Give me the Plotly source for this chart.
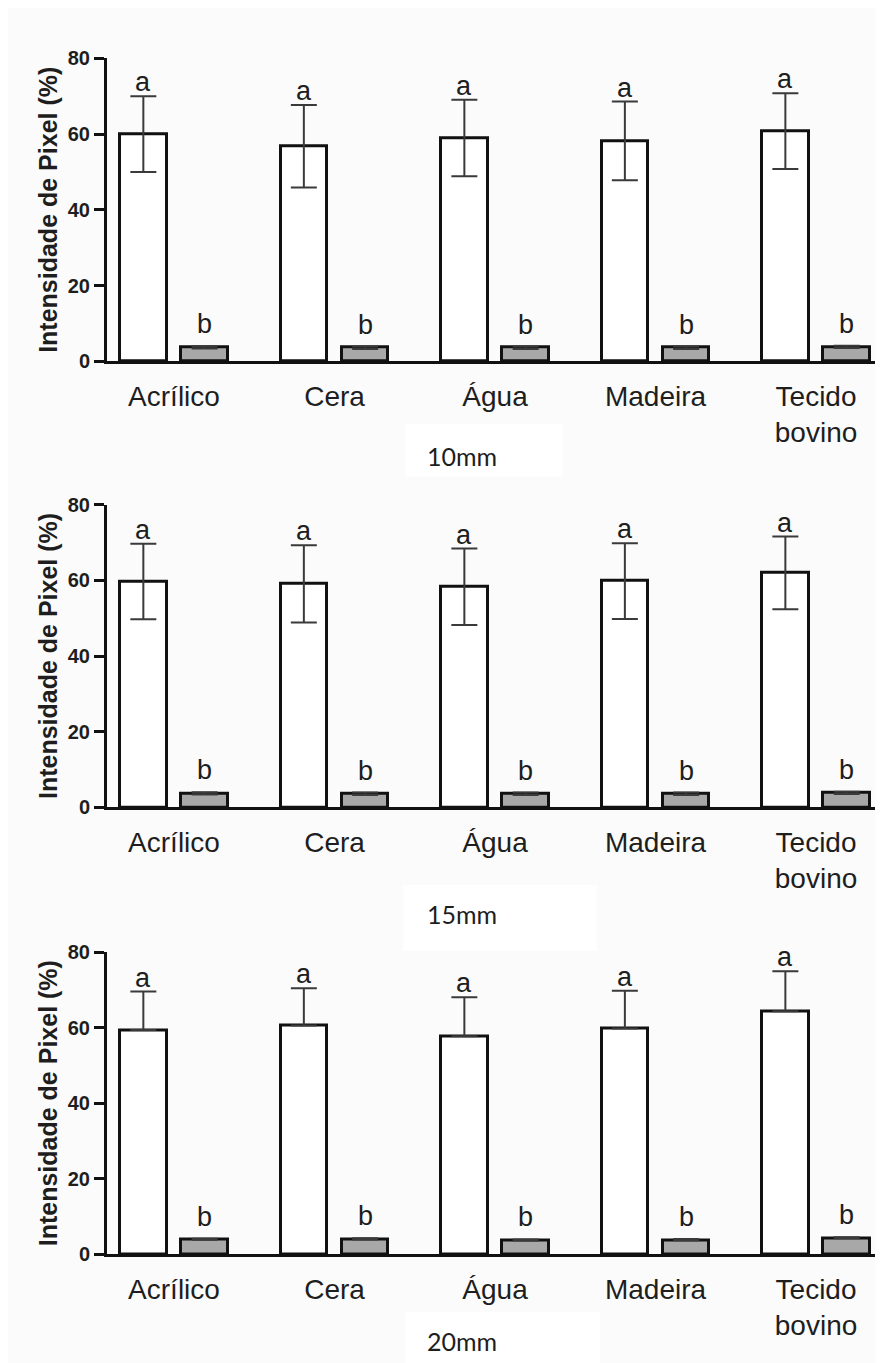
import plotly.graph_objects as go

categories = ["Acrílico", "Cera", "Água", "Madeira", "Tecido<br>bovino"]
panel_labels = ["10mm", "15mm", "20mm"]

white_10 = [60.0, 56.8, 59.0, 58.2, 60.8]
white_err_10 = [10.0, 10.9, 10.1, 10.4, 10.0]
gray_10 = [3.7, 3.6, 3.6, 3.6, 3.8]
gray_err_10 = [0.3, 0.3, 0.3, 0.3, 0.3]

white_15 = [59.7, 59.1, 58.3, 59.8, 62.0]
white_err_15 = [10.0, 10.2, 10.1, 10.0, 9.6]
gray_15 = [3.7, 3.6, 3.6, 3.6, 3.8]
gray_err_15 = [0.3, 0.3, 0.3, 0.3, 0.3]

white_20 = [59.4, 60.6, 57.8, 59.8, 64.4]
white_err_20 = [10.2, 9.9, 10.3, 10.0, 10.6]
gray_20 = [3.8, 3.9, 3.6, 3.7, 4.2]
gray_err_20 = [0.3, 0.3, 0.3, 0.3, 0.3]

letters_white = ["a", "a", "a", "a", "a"]
letters_gray = ["b", "b", "b", "b", "b"]

panels = [
    (white_10, white_err_10, gray_10, gray_err_10, True),
    (white_15, white_err_15, gray_15, gray_err_15, True),
    (white_20, white_err_20, gray_20, gray_err_20, False),
]

W, H = 883, 1363
OFS = 8  # page body margin compensation
# screen pixel positions (y of 80, y of 0) for each panel
panel_px = [(48, 356), (501.7, 809.3), (956.7, 1263.4)]
caption_px = [(462, 452), (462, 918), (462, 1352)]
caption_box = [(405, 420, 563, 473), (403, 888, 597, 955), (405, 1322, 600, 1375)]
x_left_px, x_right_px = 107, 882
xrange_ = [-0.4174, 4.411]

BW = 0.29
OFF_W = -0.336
OFF_G = 0.046
CW = OFF_W + BW / 2
CG = OFF_G + BW / 2


def fx(px):
    return (px - OFS) / W


def fy(py):
    return 1 - (py - OFS) / H


fig = go.Figure()
font_fam = "Liberation Sans, Arial, sans-serif"
annotations = []
shapes = []

for k, (wv, we, gv, ge, sym) in enumerate(panels):
    xa = "x" if k == 0 else f"x{k+1}"
    ya = "y" if k == 0 else f"y{k+1}"
    err_w = dict(type="data", array=we, visible=True, color="#3a3a3a",
                 thickness=2, width=13)
    if not sym:
        err_w["symmetric"] = False
        err_w["arrayminus"] = [0] * len(we)
    fig.add_trace(go.Bar(
        x=categories, y=wv, xaxis=xa, yaxis=ya, width=BW, offset=OFF_W,
        marker=dict(color="white", line=dict(color="#111111", width=3)),
        error_y=err_w, showlegend=False))
    err_g = dict(type="data", array=ge, visible=True, color="#3a3a3a",
                 thickness=2, width=13)
    if not sym:
        err_g["symmetric"] = False
        err_g["arrayminus"] = [0] * len(ge)
    fig.add_trace(go.Bar(
        x=categories, y=gv, xaxis=xa, yaxis=ya, width=BW, offset=OFF_G,
        marker=dict(color="#a8a8a8", line=dict(color="#111111", width=3)),
        error_y=err_g, showlegend=False))

    top, bot = panel_px[k]
    dom_y = [fy(bot), fy(top)]
    dom_x = [fx(x_left_px), fx(x_right_px)]
    fig.update_layout(**{
        ("xaxis" if k == 0 else f"xaxis{k+1}"): dict(
            domain=dom_x, range=xrange_, anchor=ya, showline=True,
            linecolor="#111111", linewidth=3, ticks="", showgrid=False,
            zeroline=False, tickfont=dict(family=font_fam, size=28, color="#1e1e1e"),
            ticklabelstandoff=8),
        ("yaxis" if k == 0 else f"yaxis{k+1}"): dict(
            domain=dom_y, range=[0, 80], anchor=xa, showline=True,
            linecolor="#111111", linewidth=3, ticks="outside", ticklen=10,
            tickwidth=3, tickcolor="#111111", tickvals=[0, 20, 40, 60, 80],
            showgrid=False, zeroline=False,
            tickfont=dict(family=font_fam, size=20, color="#1e1e1e", weight="bold")),
    })
    for i in range(len(categories)):
        annotations.append(dict(
            x=i + CW, y=wv[i] + we[i], xref=xa, yref=ya, text=letters_white[i],
            showarrow=False, yanchor="middle", yshift=14,
            font=dict(family=font_fam, size=27, color="#1e1e1e")))
        annotations.append(dict(
            x=i + CG, y=gv[i] + ge[i], xref=xa, yref=ya, text=letters_gray[i],
            showarrow=False, yanchor="middle", yshift=22,
            font=dict(family=font_fam, size=27, color="#1e1e1e")))
    annotations.append(dict(
        x=fx(48), y=fy((top + bot) / 2), xref="paper", yref="paper",
        text="Intensidade de Pixel (%)", textangle=-90, showarrow=False,
        xanchor="center", yanchor="middle",
        font=dict(family=font_fam, size=25, color="#1e1e1e", weight="bold")))
    x0, y0, x1, y1 = caption_box[k]
    shapes.append(dict(type="rect", xref="paper", yref="paper",
                       x0=fx(x0), x1=fx(x1), y0=fy(y1), y1=fy(y0),
                       fillcolor="white", line=dict(width=0), layer="below"))
    cx, cy = caption_px[k]
    annotations.append(dict(
        x=fx(cx), y=fy(cy), xref="paper", yref="paper", text=panel_labels[k],
        showarrow=False, xanchor="center", yanchor="middle",
        font=dict(family="Lato, Noto Sans, sans-serif", size=25, color="#1e1e1e")))

fig.update_layout(
    width=W, height=H, margin=dict(l=0, r=0, t=0, b=0),
    paper_bgcolor="#fbfbfb", plot_bgcolor="rgba(0,0,0,0)",
    bargap=0, annotations=annotations, shapes=shapes,
)
fig.write_html("out.html")
